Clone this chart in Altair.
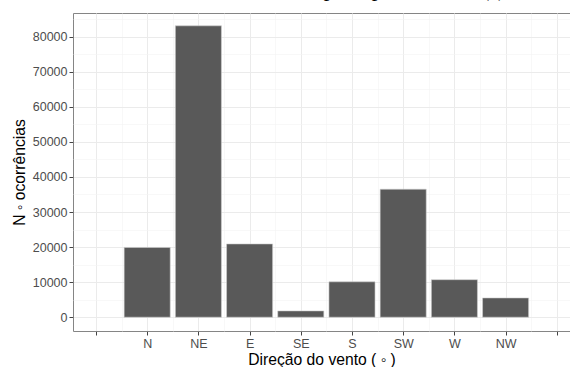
import json
import altair as alt
import pandas as pd

# Wind direction sectors and number of occurrences in each
direcoes = ["N", "NE", "E", "SE", "S", "SW", "W", "NW"]
ocorrencias = [19900, 83100, 20900, 1800, 10100, 36500, 10700, 5500]

# Tick positions (major every unit / 10000, minor halfway between)
x_ticks = [i / 2 for i in range(0, 19)]
y_ticks = [i * 5000 for i in range(0, 18)]

df = pd.DataFrame({
    "direcao": direcoes,
    "n": ocorrencias,
    "pos": list(range(1, len(direcoes) + 1)),
})
df["x0"] = df["pos"] - 0.45
df["x1"] = df["pos"] + 0.45

nomes = json.dumps([""] + direcoes + [""], ensure_ascii=False)

minor_x = "datum.value % 1 != 0"
minor_y = "datum.value % 10000 != 0"

x_axis = alt.Axis(
    title="Direção do vento ( ◦ )",
    values=x_ticks,
    labelExpr=f"datum.value % 1 == 0 ? {nomes}[datum.value] : ''",
    labelOverlap=False,
    labelFlush=False,
    tickOpacity={"condition": {"test": minor_x, "value": 0}, "value": 1},
    gridColor={"condition": {"test": minor_x, "value": "#F3F3F3"}, "value": "#EBEBEB"},
    gridWidth={"condition": {"test": minor_x, "value": 0.6}, "value": 1},
)
y_axis = alt.Axis(
    title="N ◦ ocorrências",
    values=y_ticks,
    format="d",
    labelExpr=f"{minor_y} ? '' : datum.label",
    labelOverlap=False,
    labelFlush=False,
    tickOpacity={"condition": {"test": minor_y, "value": 0}, "value": 1},
    gridColor={"condition": {"test": minor_y, "value": "#F3F3F3"}, "value": "#EBEBEB"},
    gridWidth={"condition": {"test": minor_y, "value": 0.6}, "value": 1},
)

chart = (
    alt.Chart(df)
    .mark_bar(color="#595959", stroke="#D0D0D0", strokeWidth=0.6)
    .encode(
        x=alt.X("x0:Q", axis=x_axis,
                scale=alt.Scale(domain=[-0.449, 9.258], nice=False, zero=False)),
        x2="x1:Q",
        y=alt.Y("n:Q", axis=y_axis,
                scale=alt.Scale(domain=[-3930, 86750], nice=False, zero=False)),
        y2=alt.Y2(datum=0),
    )
    .properties(
        width=497,
        height=318,
        title=alt.TitleParams(
            text="Ocorrências por tipo de vento (°)",
            font="Liberation Serif",
            fontSize=22.4,
            fontWeight="normal",
            color="black",
            anchor="start",
            frame="group",
            baseline="alphabetic",
            offset=-5,
            dx=137,
        ),
        autosize=alt.AutoSizeParams(type="none"),
        padding={"left": 73, "top": 13, "right": 0, "bottom": 36},
    )
    .configure_view(stroke="#858585", strokeWidth=1)
    .configure_axis(
        domain=False,
        tickColor="#444444",
        tickSize=4,
        tickWidth=1,
        labelFont="Liberation Sans",
        labelFontSize=12.5,
        labelColor="#4D4D4D",
        labelPadding=2,
        titleFont="Liberation Sans",
        titleFontSize=15.7,
        titleFontWeight="normal",
        titleColor="black",
    )
    .configure_axisX(titlePadding=3)
    .configure_axisY(titlePadding=5)
)

chart.save("out.html", embed_options={"renderer": "svg", "actions": False})
